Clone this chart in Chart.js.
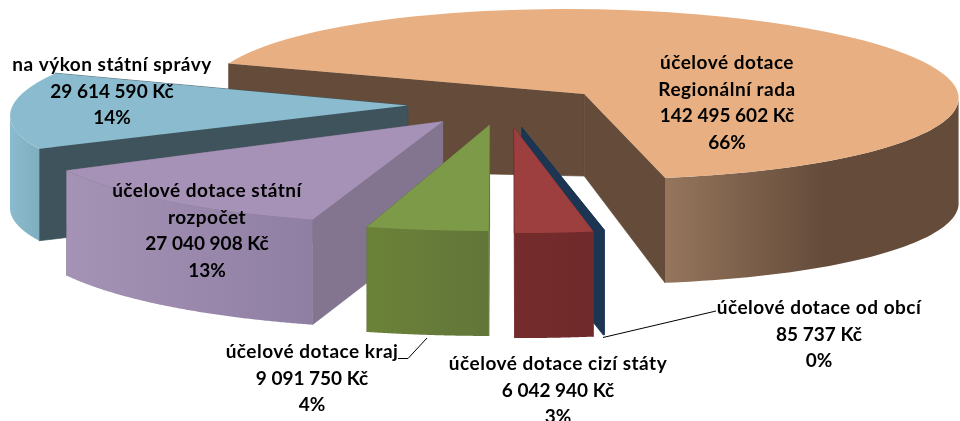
<!DOCTYPE html>
<html>
<head>
<meta charset="utf-8">
<style>
  html, body { margin: 0; padding: 0; background: #fff; }
  canvas { display: block; }
</style>
<script src="https://cdn.jsdelivr.net/npm/chart.js@4/dist/chart.umd.js"></script>
</head>
<body>
<canvas id="chart" width="960" height="421"></canvas>
<script>
// Data
const categories = ['účelové dotace Regionální rada', 'účelové dotace od obcí', 'účelové dotace cizí státy', 'účelové dotace kraj', 'účelové dotace státní rozpočet', 'na výkon státní správy'];
const amounts = [142495602, 85737, 6042940, 9091750, 27040908, 29614590];
const percents = ['66%', '0%', '3%', '4%', '13%', '14%'];

// Label lines for the category names
const nameLines = [['účelové dotace', 'Regionální rada'], ['účelové dotace od obcí'], ['účelové dotace cizí státy'], ['účelové dotace kraj'], ['účelové dotace státní', 'rozpočet'], ['na výkon státní správy']];

// Style: colours
const topColors = ['#E7AF82', '#1B3553', '#9E3F3F', '#7D9A48', '#A592B6', '#8ABBCE'];
const faceColors = ['#654C3A', '#1B3553', '#732B2B', '#62763A', '#83748F', '#3E535B'];
const wallFrom = ['#95755C', '#1B3553', '#752B2B', '#6B8238', '#A593B5', '#8ABBCE'];
const wallTo = ['#644B3A', '#1B3553', '#702A2B', '#62763A', '#8F7FA3', '#7FAEBF'];

// Style: fake 3D, one set per slice (sizes in px on the page)
const radius = 150;
const pieX = 502, pieY = 104;
const radiusX = [374, 467, 447, 463, 420, 395];
const radiusY = [85, 104, 105, 106, 102, 90];
const skewX = [18, 4, 5, 4, -16, -46];
const explode = [0.278, 0.23, 0.23, 0.2, 0.22, 0.24];
const nudgeX = [5, 1, 3, 0, 1, 1];
const nudgeY = [5, 0, 0, 0, 0, 0];
const depth = [105, 105, 105, 105, 105, 92];
const apexDepth = [82, 105, 105, 105, 103, 92];
const drawOrder = [0, 5, 4, 3, 1, 2];

// Style: label centres
const labelX = [727, 819, 558, 312, 207, 112];
const labelY = [63, 308, 364, 352, 191, 65];
const lineGap = 26.5;

function formatKc(n) {
  return String(n).replace(/\B(?=(\d{3})+(?!\d))/g, ' ') + ' Kč';
}

function sliceGeometry(el, i) {
  const sx = radiusX[i] / radius, sy = radiusY[i] / radius, kx = skewX[i] / radius;
  const mid = (el.startAngle + el.endAngle) / 2;
  const ox = Math.cos(mid) * explode[i] * radius;
  const oy = Math.sin(mid) * explode[i] * radius;
  return {
    sx, sy, kx,
    ax: pieX + nudgeX[i] + sx * ox + kx * oy,
    ay: pieY + nudgeY[i] + sy * oy
  };
}

function rimPoint(g, a) {
  const u = Math.cos(a) * radius, v = Math.sin(a) * radius;
  return { x: g.ax + g.sx * u + g.kx * v, y: g.ay + g.sy * v };
}

function drawFace(ctx, g, a, i) {
  const p = rimPoint(g, a);
  ctx.beginPath();
  ctx.moveTo(g.ax, g.ay);
  ctx.lineTo(p.x, p.y);
  ctx.lineTo(p.x, p.y + depth[i]);
  ctx.lineTo(g.ax, g.ay + apexDepth[i]);
  ctx.closePath();
  ctx.fillStyle = faceColors[i];
  ctx.strokeStyle = faceColors[i];
  ctx.lineWidth = 0.7;
  ctx.fill();
  ctx.stroke();
}

function drawWall(ctx, g, el, i) {
  // only the part of the rim that faces the viewer
  const a0 = Math.atan2(g.kx, g.sx);
  const pts = [];
  const steps = 160;
  for (let s = 0; s <= steps; s++) {
    const a = el.startAngle + (el.endAngle - el.startAngle) * s / steps;
    if (Math.sin(a - a0) >= 0) pts.push(rimPoint(g, a));
  }
  if (pts.length < 2) return;
  const xs = pts.map(p => p.x);
  const x0 = Math.min(...xs), x1 = Math.max(...xs);
  const grad = ctx.createLinearGradient(x0, 0, x1, 0);
  grad.addColorStop(0, wallFrom[i]);
  grad.addColorStop(i === 0 ? 0.55 : 1, wallTo[i]);
  if (i === 0) grad.addColorStop(1, wallTo[i]);
  ctx.beginPath();
  pts.forEach((p, n) => n ? ctx.lineTo(p.x, p.y) : ctx.moveTo(p.x, p.y));
  pts.slice().reverse().forEach(p => ctx.lineTo(p.x, p.y + depth[i]));
  ctx.closePath();
  ctx.fillStyle = grad;
  ctx.fill();
}

// Draws the pie arcs flattened, with walls under them
const pie3d = {
  id: 'pie3d',
  beforeDatasetDraw(chart, args) {
    const ctx = chart.ctx;
    const arcs = args.meta.data;
    drawOrder.forEach(i => {
      const el = arcs[i];
      const g = sliceGeometry(el, i);
      const faces = [el.startAngle, el.endAngle].sort((a, b) => rimPoint(g, a).y - rimPoint(g, b).y);
      faces.forEach(a => drawFace(ctx, g, a, i));
      drawWall(ctx, g, el, i);
      ctx.save();
      ctx.transform(g.sx, 0, g.kx, g.sy, g.ax - g.sx * el.x - g.kx * el.y, g.ay - g.sy * el.y);
      el.draw(ctx);
      ctx.restore();
    });
    return false;
  },
  afterDraw(chart) {
    const ctx = chart.ctx;
    ctx.save();
    // leader lines
    ctx.strokeStyle = '#000';
    ctx.lineWidth = 1;
    ctx.beginPath();
    ctx.moveTo(398, 358.5); ctx.lineTo(408, 358.5); ctx.lineTo(427, 338);
    ctx.moveTo(603, 337.5); ctx.lineTo(716, 311);
    ctx.stroke();
    // labels
    ctx.fillStyle = '#000';
    ctx.font = 'bold 19px Lato';
    ctx.textAlign = 'center';
    ctx.textBaseline = 'middle';
    categories.forEach((c, i) => {
      ctx.letterSpacing = '0.5px';
      nameLines[i].forEach((t, n) => ctx.fillText(t, labelX[i], labelY[i] + n * lineGap));
      ctx.letterSpacing = '0px';
      const rows = nameLines[i].length;
      ctx.fillText(formatKc(amounts[i]), labelX[i], labelY[i] + rows * lineGap);
      ctx.fillText(percents[i], labelX[i], labelY[i] + (rows + 1) * lineGap);
    });
    ctx.restore();
  }
};

new Chart(document.getElementById('chart'), {
  type: 'pie',
  data: {
    labels: categories,
    datasets: [{
      data: amounts,
      backgroundColor: topColors,
      borderWidth: 0
    }]
  },
  options: {
    responsive: false,
    animation: false,
    rotation: 291,
    radius: radius,
    layout: { padding: 0 },
    plugins: { legend: { display: false }, tooltip: { enabled: false } }
  },
  plugins: [pie3d]
});
</script>
</body>
</html>
